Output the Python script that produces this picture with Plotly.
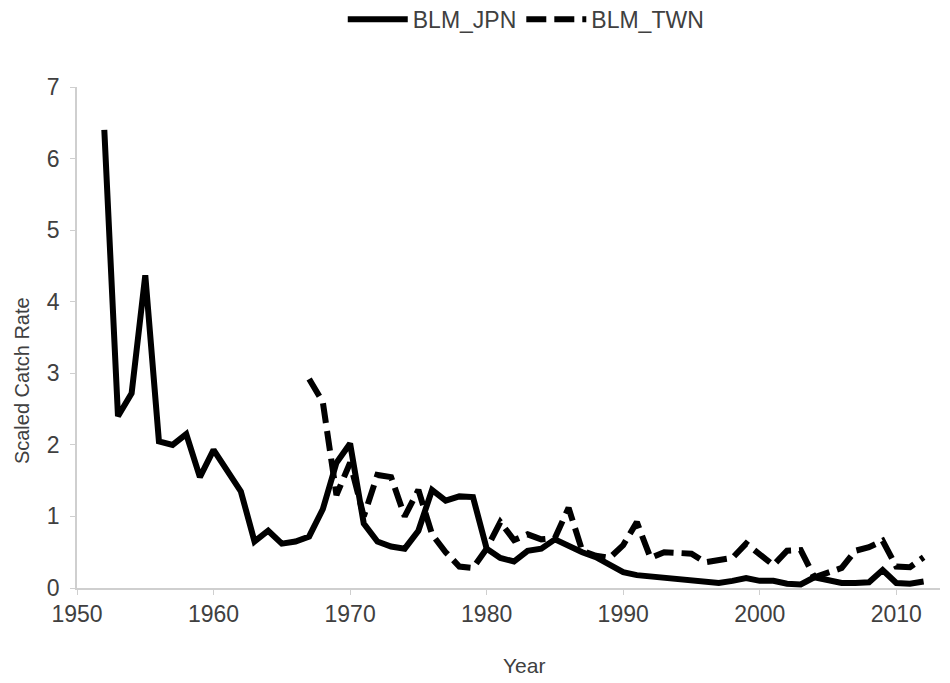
import plotly.graph_objects as go

jpn_years = list(range(1952, 2013))
jpn_values = [6.4, 2.4, 2.72, 4.37, 2.05, 2.0, 2.15, 1.55, 1.93, 1.65,
              1.35, 0.65, 0.8, 0.62, 0.65, 0.72, 1.1, 1.75, 2.02, 0.9,
              0.65, 0.58, 0.55, 0.8, 1.37, 1.22, 1.28, 1.27, 0.55, 0.42,
              0.37, 0.52, 0.55, 0.68, 0.58, 0.5, 0.43, 0.32, 0.22, 0.18,
              0.16, 0.14, 0.12, 0.12, 0.08, 0.07, 0.1, 0.14, 0.1, 0.1,
              0.06, 0.05, 0.15, 0.1, 0.07, 0.07, 0.08, 0.25, 0.07, 0.06,
              0.09]

twn_years = list(range(1967, 2013))
twn_values = [2.92, 2.6, 1.3, 1.75, 1.0, 1.58, 1.55, 1.0, 1.37, 0.75,
              0.5, 0.3, 0.28, 0.55, 0.92, 0.67, 0.75, 0.68, 0.7, 1.12,
              0.52, 0.45, 0.42, 0.6, 0.92, 0.42, 0.5, 0.5, 0.48, 0.36,
              0.4, 0.42, 0.62, 0.48, 0.32, 0.52, 0.53, 0.15, 0.22, 0.28,
              0.52, 0.57, 0.66, 0.3, 0.29, 0.43]

x_ticks = [1950, 1960, 1970, 1980, 1990, 2000, 2010]
y_ticks = [0, 1, 2, 3, 4, 5, 6, 7]

FONT = "Liberation Sans, Arial, sans-serif"
TEXT = "#404040"
AXIS = "#cfcfcf"

fig = go.Figure()
fig.add_trace(go.Scatter(x=jpn_years, y=jpn_values, mode="lines", name="BLM_JPN",
                         line=dict(color="black", width=6)))
fig.add_trace(go.Scatter(x=twn_years, y=twn_values, mode="lines", name="BLM_TWN",
                         line=dict(color="black", width=6, dash="20px,8px")))

fig.update_layout(
    width=950, height=683,
    paper_bgcolor="white", plot_bgcolor="white",
    margin=dict(l=69, r=18, t=79, b=103, autoexpand=False),
    font=dict(family=FONT, color=TEXT, size=23),
    showlegend=True,
    legend=dict(orientation="h", x=0.52, xanchor="center", y=1.135, yanchor="middle",
                font=dict(size=23, color=TEXT), itemwidth=60, tracegroupgap=0),
    xaxis=dict(range=[1950, 2013.2], tickvals=x_ticks, showgrid=False, zeroline=False,
               showline=True, linecolor=AXIS, linewidth=1.5, ticks="outside",
               tickcolor=AXIS, ticklen=5, automargin=False,
               tickfont=dict(size=23, color=TEXT)),
    yaxis=dict(range=[0, 7], tickvals=y_ticks, showgrid=False, zeroline=False,
               showline=True, linecolor=AXIS, linewidth=1.5, ticks="outside",
               tickcolor=AXIS, ticklen=5, automargin=False, ticklabelstandoff=6,
               tickfont=dict(size=23, color=TEXT)),
    annotations=[
        dict(text="Year", xref="paper", yref="paper", x=0.518, y=-0.1537,
             xanchor="center", yanchor="middle", showarrow=False,
             font=dict(size=21, color=TEXT)),
        dict(text="Scaled Catch Rate", xref="paper", yref="paper", x=-0.0637, y=0.413,
             xanchor="center", yanchor="middle", textangle=-90, showarrow=False,
             font=dict(size=20, color=TEXT)),
    ],
)

fig.write_html("out.html")
